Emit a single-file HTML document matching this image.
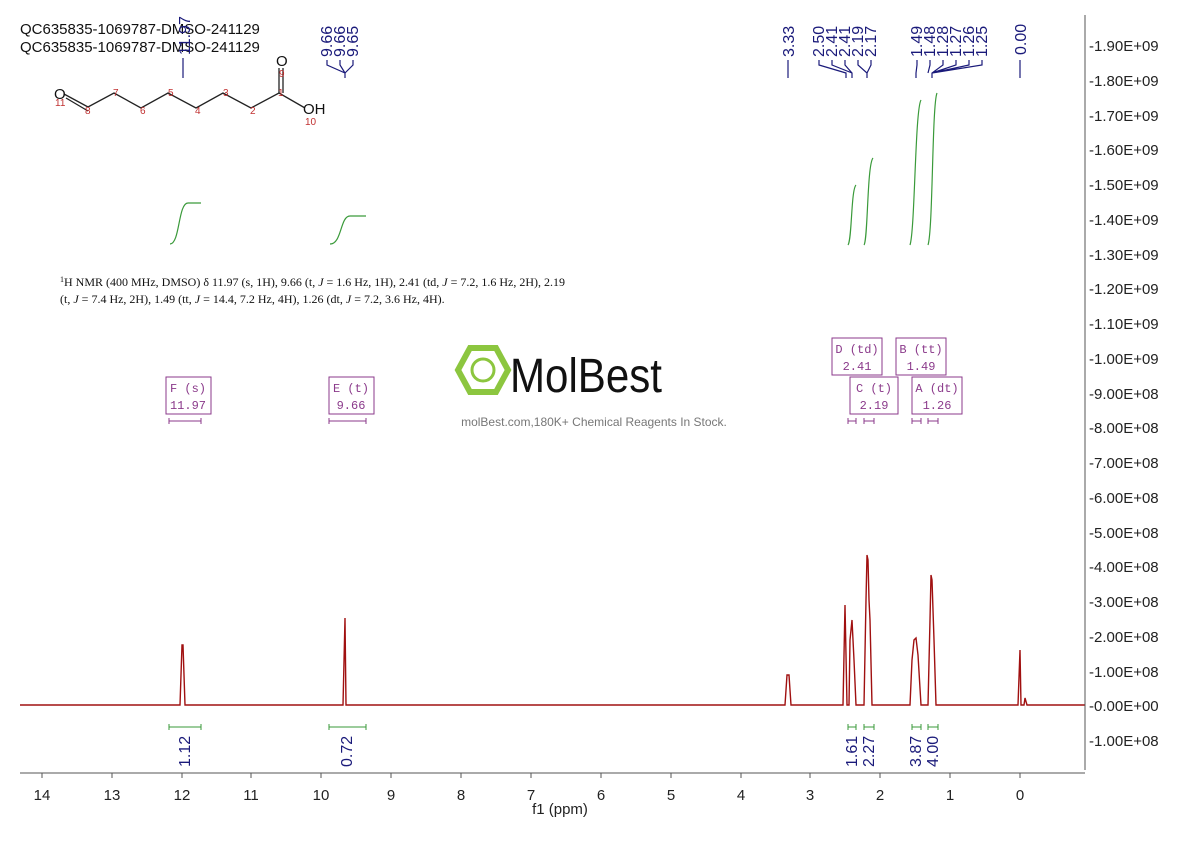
<!DOCTYPE html>
<html><head><meta charset="utf-8"><style>
body{margin:0;background:#fff}
svg{display:block}
.l{font-family:"Liberation Sans",sans-serif}
.b{font-family:"Liberation Mono",monospace;fill:#8b3a8b;font-size:12px}
</style></head><body>
<svg width="1190" height="841" viewBox="0 0 1190 841" xmlns="http://www.w3.org/2000/svg">
<g class="l" font-size="15" fill="#111">
<text x="20" y="34">QC635835-1069787-DMSO-241129</text>
<text x="20" y="52">QC635835-1069787-DMSO-241129</text>
</g>
<!-- structure -->
<g stroke="#222" stroke-width="1.3" fill="none">
<polyline points="64,94 88,107 114,93 141,108 168,93 196,108 223,93 251,108 279,93 305,108"/>
<line x1="66" y1="98" x2="88" y2="111"/>
<line x1="279" y1="93" x2="279" y2="68"/><line x1="283" y1="93" x2="283" y2="68"/>
</g>
<g class="l" font-size="15" fill="#111"><text x="54" y="99">O</text><text x="276" y="66">O</text><text x="303" y="114">OH</text></g>
<g class="l" font-size="10" fill="#c03030"><text x="55" y="106">11</text><text x="85" y="114">8</text><text x="113" y="96">7</text><text x="140" y="114">6</text><text x="168" y="96">5</text><text x="195" y="114">4</text><text x="223" y="96">3</text><text x="250" y="114">2</text><text x="278" y="96">1</text><text x="279" y="77">9</text><text x="305" y="125">10</text></g>
<!-- peak labels -->
<g class="l" font-size="16" fill="#1a1a7a">
<text transform="translate(190,55) rotate(-90)">11.97</text>
<text transform="translate(332,57) rotate(-90)">9.66</text>
<text transform="translate(345,57) rotate(-90)">9.66</text>
<text transform="translate(358,57) rotate(-90)">9.65</text>
<text transform="translate(794,57) rotate(-90)">3.33</text>
<text transform="translate(824,57) rotate(-90)">2.50</text>
<text transform="translate(837,57) rotate(-90)">2.41</text>
<text transform="translate(850,57) rotate(-90)">2.41</text>
<text transform="translate(863,57) rotate(-90)">2.19</text>
<text transform="translate(876,57) rotate(-90)">2.17</text>
<text transform="translate(922,57) rotate(-90)">1.49</text>
<text transform="translate(935,57) rotate(-90)">1.48</text>
<text transform="translate(948,57) rotate(-90)">1.28</text>
<text transform="translate(961,57) rotate(-90)">1.27</text>
<text transform="translate(974,57) rotate(-90)">1.26</text>
<text transform="translate(987,57) rotate(-90)">1.25</text>
<text transform="translate(1026,55) rotate(-90)">0.00</text>
</g>
<g stroke="#1a1a7a" stroke-width="1.2" fill="none">
<line x1="183" y1="58" x2="183" y2="78"/>
<path d="M327,60 l0,5 l18,8 l0,5 M340,60 l0,5 l5,8 M353,60 l0,5 l-8,8"/>
<line x1="788" y1="60" x2="788" y2="78"/>
<path d="M819,60 v5 l27,8 v5 M832,60 v5 l20,8 v5 M845,60 v5 l7,8 M858,60 v5 l9,8 v5 M871,60 v5 l-4,8"/>
<path d="M917,60 v5 l-1,8 v5 M930,60 v5 l-2,8 M943,60 v5 l-11,8 v5 M956,60 v5 l-24,8 M969,60 v5 l-37,8 M982,60 v5 l-50,8"/>
<line x1="1020" y1="60" x2="1020" y2="78"/>
</g>
<!-- integral curves -->
<g stroke="#3a9a3a" stroke-width="1.2" fill="none">
<path d="M170,244 C180,244 178,203 188,203 L201,203"/>
<path d="M330,244 C342,244 340,216 350,216 L366,216"/>
<path d="M848,245 C852,240 851,190 856,185"/>
<path d="M864,245 C868,240 867,165 873,158"/>
<path d="M910,245 C915,230 915,110 921,100"/>
<path d="M928,245 C933,230 932,105 937,93"/>
</g>
<!-- text block -->
<g font-family="Liberation Serif,serif" font-size="12" fill="#111">
<text x="60" y="286"><tspan font-size="8" dy="-4">1</tspan><tspan dy="4">H NMR (400 MHz, DMSO) δ 11.97 (s, 1H), 9.66 (t, <tspan font-style="italic">J</tspan> = 1.6 Hz, 1H), 2.41 (td, <tspan font-style="italic">J</tspan> = 7.2, 1.6 Hz, 2H), 2.19</tspan></text>
<text x="60" y="303">(t, <tspan font-style="italic">J</tspan> = 7.4 Hz, 2H), 1.49 (tt, <tspan font-style="italic">J</tspan> = 14.4, 7.2 Hz, 4H), 1.26 (dt, <tspan font-style="italic">J</tspan> = 7.2, 3.6 Hz, 4H).</text>
</g>
<!-- watermark -->
<g>
<polygon points="458,370 470,348 496,348 508,370 496,392 470,392" fill="none" stroke="#8cc63f" stroke-width="6"/>
<circle cx="483" cy="370" r="11" fill="none" stroke="#8cc63f" stroke-width="3"/>
<text x="510" y="392" class="l" font-size="48" fill="#111" textLength="152" lengthAdjust="spacingAndGlyphs">MolBest</text>
<text x="594" y="426" class="l" font-size="12" fill="#777" text-anchor="middle">molBest.com,180K+ Chemical Reagents In Stock.</text>
</g>
<!-- boxes -->
<g fill="none" stroke="#8b3a8b" stroke-width="1">
<rect x="166" y="377" width="45" height="37"/><rect x="329" y="377" width="45" height="37"/>
<rect x="832" y="338" width="50" height="37"/><rect x="896" y="338" width="50" height="37"/>
<rect x="850" y="377" width="48" height="37"/><rect x="912" y="377" width="50" height="37"/>
<path d="M169,421 h32 M169,418 v6 M201,418 v6 M329,421 h37 M329,418 v6 M366,418 v6 M848,421 h8 M848,418v6 M856,418v6 M864,421 h10 M864,418v6 M874,418v6 M912,421 h9 M912,418v6 M921,418v6 M928,421 h10 M928,418v6 M938,418v6"/>
</g>
<g class="b" text-anchor="middle">
<text x="188" y="392">F (s)</text><text x="188" y="409">11.97</text>
<text x="351" y="392">E (t)</text><text x="351" y="409">9.66</text>
<text x="857" y="353">D (td)</text><text x="857" y="370">2.41</text>
<text x="921" y="353">B (tt)</text><text x="921" y="370">1.49</text>
<text x="874" y="392">C (t)</text><text x="874" y="409">2.19</text>
<text x="937" y="392">A (dt)</text><text x="937" y="409">1.26</text>
</g>
<!-- spectrum -->
<path d="M20,705 L180,705 L182,645 L183,645 L185,705 L343,705 L345,618 L346,705 L785,705 L787,675 L789,675 L791,705 L843,705 L845,605 L847,705 L849,705 L850,640 L852,620 L854,660 L856,705 L864,705 L866,600 L867,555 L868,560 L869,600 L870,620 L872,705 L910,705 L912,660 L914,640 L916,638 L918,655 L921,705 L928,705 L930,620 L931,575 L932,580 L934,640 L936,705 L1018,705 L1020,650 L1021,705 L1024,705 L1025,698 L1027,705 L1085,705" fill="none" stroke="#a01010" stroke-width="1.4"/>
<!-- lower integrals -->
<g stroke="#3a9a3a" fill="none"><path d="M169,727 h32 M169,724v6 M201,724v6 M329,727h37 M329,724v6 M366,724v6 M848,727h8 M848,724v6 M856,724v6 M864,727h10 M864,724v6 M874,724v6 M912,727h9 M912,724v6 M921,724v6 M928,727h10 M928,724v6 M938,724v6"/></g>
<g class="l" font-size="16" fill="#1a1a7a">
<text transform="translate(190,767) rotate(-90)">1.12</text>
<text transform="translate(352,767) rotate(-90)">0.72</text>
<text transform="translate(857,767) rotate(-90)">1.61</text>
<text transform="translate(874,767) rotate(-90)">2.27</text>
<text transform="translate(921,767) rotate(-90)">3.87</text>
<text transform="translate(938,767) rotate(-90)">4.00</text>
</g>
<!-- x axis -->
<line x1="20" y1="773" x2="1085" y2="773" stroke="#555"/>
<g stroke="#555">
<line x1="42" y1="773" x2="42" y2="778"/><line x1="112" y1="773" x2="112" y2="778"/><line x1="182" y1="773" x2="182" y2="778"/><line x1="251" y1="773" x2="251" y2="778"/><line x1="321" y1="773" x2="321" y2="778"/><line x1="391" y1="773" x2="391" y2="778"/><line x1="461" y1="773" x2="461" y2="778"/><line x1="531" y1="773" x2="531" y2="778"/><line x1="601" y1="773" x2="601" y2="778"/><line x1="671" y1="773" x2="671" y2="778"/><line x1="741" y1="773" x2="741" y2="778"/><line x1="810" y1="773" x2="810" y2="778"/><line x1="880" y1="773" x2="880" y2="778"/><line x1="950" y1="773" x2="950" y2="778"/><line x1="1020" y1="773" x2="1020" y2="778"/>
</g>
<g class="l" font-size="15" fill="#222" text-anchor="middle">
<text x="42" y="800">14</text><text x="112" y="800">13</text><text x="182" y="800">12</text><text x="251" y="800">11</text><text x="321" y="800">10</text><text x="391" y="800">9</text><text x="461" y="800">8</text><text x="531" y="800">7</text><text x="601" y="800">6</text><text x="671" y="800">5</text><text x="741" y="800">4</text><text x="810" y="800">3</text><text x="880" y="800">2</text><text x="950" y="800">1</text><text x="1020" y="800">0</text>
<text x="560" y="814">f1 (ppm)</text>
</g>
<!-- y axis -->
<line x1="1085" y1="15" x2="1085" y2="770" stroke="#555"/>
<g class="l" font-size="15" fill="#222">
<text x="1089" y="51">-1.90E+09</text><text x="1089" y="86">-1.80E+09</text><text x="1089" y="121">-1.70E+09</text><text x="1089" y="155">-1.60E+09</text><text x="1089" y="190">-1.50E+09</text><text x="1089" y="225">-1.40E+09</text><text x="1089" y="260">-1.30E+09</text><text x="1089" y="294">-1.20E+09</text><text x="1089" y="329">-1.10E+09</text><text x="1089" y="364">-1.00E+09</text><text x="1089" y="399">-9.00E+08</text><text x="1089" y="433">-8.00E+08</text><text x="1089" y="468">-7.00E+08</text><text x="1089" y="503">-6.00E+08</text><text x="1089" y="538">-5.00E+08</text><text x="1089" y="572">-4.00E+08</text><text x="1089" y="607">-3.00E+08</text><text x="1089" y="642">-2.00E+08</text><text x="1089" y="677">-1.00E+08</text><text x="1089" y="711">-0.00E+00</text><text x="1089" y="746">-1.00E+08</text>
</g>
</svg>
</body></html>
